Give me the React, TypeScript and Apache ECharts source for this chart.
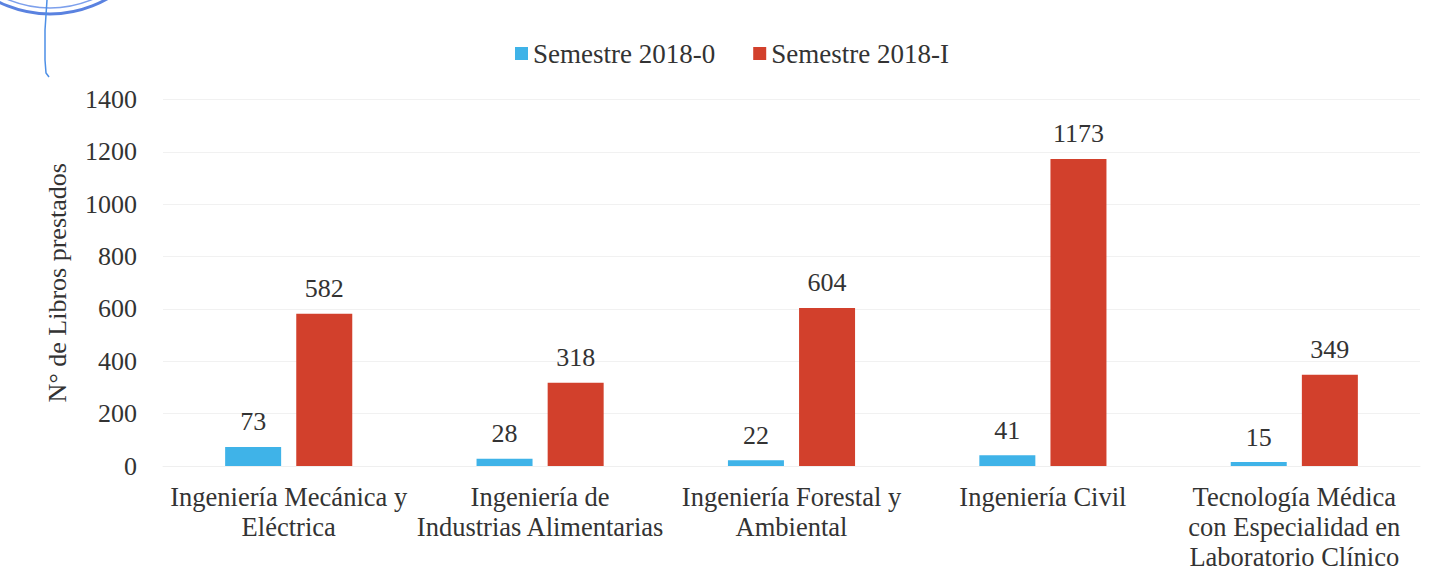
import React, { useEffect, useRef } from "react";
import * as echarts from "echarts";

const categories = [
  "Ingeniería Mecánica y\nEléctrica",
  "Ingeniería de\nIndustrias Alimentarias",
  "Ingeniería Forestal y\nAmbiental",
  "Ingeniería Civil",
  "Tecnología Médica\ncon Especialidad en\nLaboratorio Clínico",
];
const seriesNames = ["Semestre 2018-0", "Semestre 2018-I"];
const semestre2018_0 = [73, 28, 22, 41, 15];
const semestre2018_I = [582, 318, 604, 1173, 349];
const yAxisName = "N° de Libros prestados";
const yMin = 0;
const yMax = 1400;
const yInterval = 200;

const FONT = "Liberation Serif";
const TEXT = "#333333";
const BLUE = "#3fb3e8";
const RED = "#d2402c";

export default function App() {
  const ref = useRef<HTMLDivElement>(null);

  useEffect(() => {
    document.body.style.margin = "0";
    if (!ref.current) return;
    const chart = echarts.init(ref.current, undefined, { renderer: "svg" });
    const labelStyle = {
      show: true,
      position: "top" as const,
      distance: 12,
      fontFamily: FONT,
      fontSize: 26,
      color: TEXT,
    };
    chart.setOption({
      animation: false,
      backgroundColor: "#ffffff",
      textStyle: { fontFamily: FONT, color: TEXT },
      legend: {
        data: seriesNames,
        left: 510,
        top: 35,
        itemWidth: 13,
        itemHeight: 13,
        itemGap: 38,
        icon: "rect",
        textStyle: { fontFamily: FONT, fontSize: 27, color: TEXT },
      },
      grid: { left: 163, right: 27, top: 99.5, bottom: 120, containLabel: false },
      xAxis: {
        type: "category",
        data: categories,
        axisLine: { show: true, lineStyle: { color: "#efefef", width: 1 } },
        axisTick: { show: false },
        axisLabel: {
          interval: 0,
          margin: 16,
          fontFamily: FONT,
          fontSize: 26.5,
          lineHeight: 30,
          color: TEXT,
        },
      },
      yAxis: {
        type: "value",
        min: yMin,
        max: yMax,
        interval: yInterval,
        name: yAxisName,
        nameLocation: "middle",
        nameGap: 93,
        nameTextStyle: { fontFamily: FONT, fontSize: 26, color: TEXT },
        axisLine: { show: false },
        axisTick: { show: false },
        axisLabel: {
          margin: 26,
          fontFamily: FONT,
          fontSize: 26,
          color: TEXT,
          formatter: (v: number) => String(v),
        },
        splitLine: { lineStyle: { color: "#f1f1f1", width: 1 } },
      },
      series: [
        {
          name: seriesNames[0],
          type: "bar",
          data: semestre2018_0,
          barWidth: 56,
          barGap: "27%",
          itemStyle: { color: BLUE },
          label: labelStyle,
        },
        {
          name: seriesNames[1],
          type: "bar",
          data: semestre2018_I,
          barWidth: 56,
          barGap: "27%",
          itemStyle: { color: RED },
          label: labelStyle,
        },
      ],
      graphic: [
        {
          type: "arc",
          shape: { cx: 50, cy: -101, r: 115, startAngle: 0, endAngle: Math.PI },
          style: { stroke: "#5a82e0", lineWidth: 3, fill: "none" },
          silent: true,
        },
        {
          type: "arc",
          shape: { cx: 50, cy: -101, r: 109, startAngle: 0, endAngle: Math.PI },
          style: { stroke: "#7da0ec", lineWidth: 1.5, fill: "none" },
          silent: true,
        },
        {
          type: "polyline",
          shape: { points: [[47, 0], [45, 30], [45, 60], [46, 73], [49, 77]] },
          style: { stroke: "#4d8fe6", lineWidth: 1.5, fill: "none" },
          silent: true,
        },
      ],
    });
    return () => chart.dispose();
  }, []);

  return <div ref={ref} style={{ width: 1447, height: 586 }} />;
}
